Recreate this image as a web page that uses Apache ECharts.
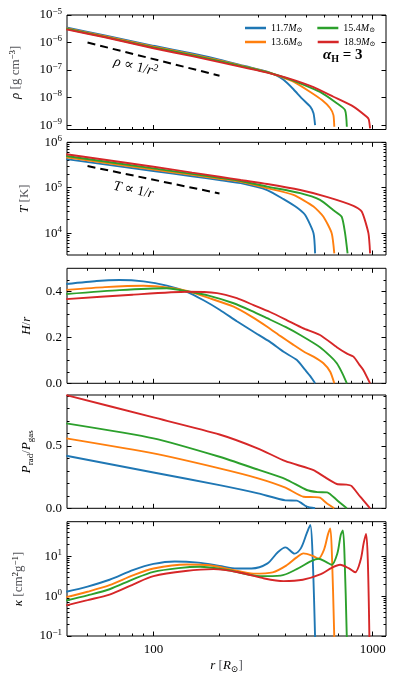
<!DOCTYPE html>
<html>
<head>
<meta charset="utf-8">
<script src="https://cdn.jsdelivr.net/npm/echarts@6/dist/echarts.min.js"></script>
<style>
html, body { margin: 0; padding: 0; background: #fff; }
#chart { width: 398px; height: 686px; }
</style>
</head>
<body>
<div id="chart"></div>
<script>
// disc profiles for four masses, alpha_H = 3
var masses = ['11.7', '13.6', '15.4', '18.9'];
var colors = ['#1f77b4', '#ff7f0e', '#2ca02c', '#d62728'];

// density [g cm^-3] vs r [Rsun]
var rho117 = [[40,3.55e-6],[60,1.8e-6],[100,7.6e-7],[150,4.0e-7],[200,2.4e-7],[260,1.4e-7],[330,8.7e-8],[360,6.6e-8],[392,4.4e-8],[435,2.0e-8],[475,9.3e-9],[519,4.7e-9],[537,2.7e-9],[546,1.0e-9]];
var rho136 = [[40,3.3e-6],[60,1.7e-6],[100,7.1e-7],[150,3.7e-7],[200,2.24e-7],[260,1.35e-7],[330,8.5e-8],[380,5.8e-8],[435,3.8e-8],[519,1.6e-8],[587,8.1e-9],[640,4.1e-9],[662,2.3e-9],[668,8.7e-10]];
var rho154 = [[40,3.16e-6],[60,1.6e-6],[100,6.6e-7],[150,3.5e-7],[200,2.1e-7],[260,1.3e-7],[330,8.3e-8],[400,5.2e-8],[467,3.3e-8],[575,1.6e-8],[686,6.2e-9],[748,3.5e-9],[762,8.7e-10]];
var rho189 = [[40,3.0e-6],[60,1.55e-6],[100,6.2e-7],[150,3.2e-7],[200,1.95e-7],[260,1.23e-7],[330,8.1e-8],[420,4.8e-8],[537,2.4e-8],[662,1.07e-8],[817,4.7e-9],[939,2.0e-9],[960,1.6e-9],[973,7.6e-10]];

// temperature [K]
var T117 = [[40,4.27e5],[100,2.33e5],[150,1.79e5],[200,1.48e5],[250,1.26e5],[330,8.9e4],[392,5.6e4],[451,3.66e4],[492,2.5e4],[537,1.0e4],[546,3.6e3]];
var T136 = [[40,4.68e5],[100,2.5e5],[150,1.92e5],[200,1.58e5],[250,1.35e5],[330,9.8e4],[435,6.95e4],[537,3.85e4],[596,2.3e4],[650,1.0e4],[668,3.6e3]];
var T154 = [[40,5.0e5],[100,2.67e5],[150,2.02e5],[200,1.66e5],[250,1.41e5],[330,1.06e5],[467,7.6e4],[575,5.4e4],[662,3.2e4],[722,2.3e4],[748,1.0e4],[768,3.6e3]];
var T189 = [[40,5.45e5],[100,2.9e5],[150,2.15e5],[200,1.75e5],[250,1.48e5],[330,1.21e5],[467,8.9e4],[617,6.3e4],[817,4.0e4],[891,3.0e4],[956,1.0e4],[973,3.6e3]];

// aspect ratio H/r
var Hr117 = [[40,0.432],[55,0.445],[70,0.449],[90,0.443],[115,0.425],[142,0.398],[170,0.36],[201,0.319],[240,0.27],[286,0.224],[340,0.18],[392,0.137],[451,0.101],[492,0.058],[520,0.03],[546,0]];
var Hr136 = [[40,0.406],[60,0.418],[90,0.424],[120,0.415],[142,0.402],[180,0.37],[232,0.333],[280,0.29],[330,0.246],[380,0.205],[435,0.167],[490,0.135],[537,0.116],[596,0.087],[640,0.05],[668,0]];
var Hr154 = [[40,0.388],[70,0.405],[115,0.413],[142,0.40],[180,0.38],[232,0.348],[280,0.315],[330,0.283],[400,0.245],[467,0.21],[575,0.157],[640,0.118],[686,0.087],[730,0.04],[762,0]];
var Hr189 = [[40,0.366],[80,0.385],[142,0.398],[195,0.392],[240,0.37],[286,0.34],[340,0.31],[405,0.275],[480,0.24],[575,0.21],[686,0.157],[760,0.13],[817,0.116],[870,0.08],[906,0.058],[973,0]];

// P_rad / P_gas
var Pr117 = [[40,0.422],[100,0.288],[200,0.186],[300,0.12],[400,0.064],[451,0.062],[475,0.04],[500,0.013],[546,0]];
var Pr136 = [[40,0.562],[100,0.441],[200,0.321],[300,0.241],[400,0.166],[483,0.093],[540,0.09],[575,0.085],[617,0.04],[668,0]];
var Pr154 = [[40,0.682],[100,0.562],[200,0.414],[300,0.31],[400,0.235],[500,0.147],[560,0.13],[620,0.128],[686,0.067],[762,0]];
var Pr189 = [[40,0.909],[100,0.73],[200,0.593],[300,0.48],[400,0.378],[537,0.307],[600,0.254],[686,0.195],[760,0.19],[800,0.18],[877,0.093],[973,0]];

// opacity kappa [cm^2 g^-1]
var k117 = [[40,1.3],[50,1.75],[63,2.6],[81,4.6],[100,6.5],[125,7.5],[160,7.0],[200,5.8],[240,5.0],[280,5.0],[330,6.6],[370,13],[400,17],[440,11.8],[470,16],[500,38],[519,62],[532,10],[546,0.09]];
var k136 = [[40,0.95],[50,1.3],[63,1.9],[81,3.4],[100,5.0],[142,6.3],[180,6.0],[230,4.6],[286,3.7],[350,4.0],[405,6.0],[450,9.5],[483,12],[530,10.5],[565,8.8],[600,15],[625,36],[640,51],[652,10],[668,0.09]];
var k154 = [[40,0.78],[50,1.05],[63,1.5],[81,2.7],[100,4.1],[130,5.1],[163,5.5],[220,4.5],[307,3.2],[380,3.3],[450,4.8],[520,7.5],[565,8.8],[615,7.2],[650,6.2],[690,12],[715,35],[731,45],[745,8],[762,0.09]];
var k189 = [[40,0.59],[50,0.8],[63,1.1],[81,2.0],[100,3.2],[140,4.3],[188,4.8],[250,3.9],[320,2.8],[392,2.4],[480,2.6],[580,3.6],[650,5.2],[710,6.2],[780,5.0],[832,4.0],[880,8],[910,22],[933,37],[950,8],[966,0.09]];

// guide lines
var refRho = [[50,1e-6],[200,6.25e-8]];
var refT = [[50,3e5],[200,7.5e4]];

// axis ticks (log10 units for log panels)
var xMajor = [2, 3];
var xMinorVals = [50,60,70,80,90,200,300,400,500,600,700,800,900];
var rhoMajor = [-9,-8,-7,-6,-5];
var TMajor = [4,5,6];
var HrMajor = [0, 0.2, 0.4];
var HrMinor = [0.05,0.1,0.15,0.25,0.3,0.35,0.45];
var PrMajor = [0, 0.5];
var PrMinor = [0.1,0.2,0.3,0.4,0.6,0.7,0.8,0.9];
var kMajor = [-1, 0, 1];

var lg = Math.log10;
var FONT = '"Liberation Serif", "DejaVu Serif", serif';
var X_MIN = lg(40.3), X_MAX = lg(1150);

function logMinors(d0, d1, lo, hi) {
    var out = [];
    for (var d = d0; d < d1; d++)
        for (var k = 2; k < 10; k++) {
            var v = d + lg(k);
            if (v > lo && v < hi) out.push(v);
        }
    return out;
}

var rich = {
    b: {fontFamily: FONT, fontSize: 13, lineHeight: 16, color: '#000'},
    i: {fontFamily: FONT, fontSize: 13, lineHeight: 16, fontStyle: 'italic', color: '#000'},
    s: {fontFamily: FONT, fontSize: 9, lineHeight: 9, verticalAlign: 'top', color: '#000'},
    sub: {fontFamily: FONT, fontSize: 9, lineHeight: 9, verticalAlign: 'bottom', color: '#000'}
};

function sup(n) { return n < 0 ? '\u2212' + (-n) : '' + n; }
function logLabel(v) { return '{b|10}{s|' + sup(Math.round(v)) + '}'; }
function linLabel(v) { return '{b|' + v.toFixed(1) + '}'; }

var panels = [
    {data: [rho117, rho136, rho154, rho189], log: true, min: -9.16, max: -5, major: rhoMajor, minor: [],
        name: '{i|\u03c1} [g cm{s|\u22123}]', gap: 43, top: 15, h: 114.5},
    {data: [T117, T136, T154, T189], log: true, min: 3.52, max: 6, major: TMajor, minor: logMinors(3, 6, 3.52, 6),
        name: '{i|T} [K]', gap: 34, top: 142.3, h: 112.7},
    {data: [Hr117, Hr136, Hr154, Hr189], log: false, min: 0, max: 0.5, major: HrMajor, minor: HrMinor,
        name: '{i|H}/{i|r}', gap: 32, top: 268.3, h: 115},
    {data: [Pr117, Pr136, Pr154, Pr189], log: false, min: 0, max: 0.91, major: PrMajor, minor: PrMinor,
        name: '{i|P}{sub|rad}/{i|P}{sub|gas}', gap: 30, top: 395, h: 113.3},
    {data: [k117, k136, k154, k189], log: true, min: -1, max: 1.875, major: kMajor, minor: logMinors(-1, 2, -1, 1.875),
        name: '{i|\u03ba} [cm{s|2}g{s|\u22121}]', gap: 40, top: 521.7, h: 114.3}
];

var grids = [], xAxes = [], yAxes = [], series = [];
var xMinor = xMinorVals.map(lg);

function tickAxis(g, pos, ticks, len, extra) {
    var a = {
        gridIndex: g, type: 'value', position: pos,
        axisLine: {show: false, onZero: false}, splitLine: {show: false},
        axisTick: {show: true, inside: true, length: len, customValues: ticks, lineStyle: {color: '#000', width: 1}},
        axisLabel: {show: false}
    };
    for (var k in extra) a[k] = extra[k];
    return a;
}

panels.forEach(function (p, g) {
    grids.push({left: 67, width: 319, top: p.top, height: p.h, show: true, borderColor: '#000', borderWidth: 1});

    var xr = {min: X_MIN, max: X_MAX};
    var xm = tickAxis(g, 'bottom', xMajor, 4.5, xr);
    if (g === 4) {
        xm.axisLabel = {show: true, customValues: xMajor, margin: 6, rich: rich,
            formatter: function (v) { return '{b|' + Math.round(Math.pow(10, v)) + '}'; }};
        xm.name = '{i|r} [{i|R}{sub|\u2299}]';
        xm.nameLocation = 'middle';
        xm.nameGap = 22;
        xm.nameTextStyle = {rich: rich, fontFamily: FONT, fontSize: 13, lineHeight: 16};
    }
    xAxes.push(xm,
        tickAxis(g, 'bottom', xMinor, 2.5, xr),
        tickAxis(g, 'top', xMajor, 4.5, xr),
        tickAxis(g, 'top', xMinor, 2.5, xr));

    var yr = {min: p.min, max: p.max};
    var ym = tickAxis(g, 'left', p.major, 4.5, yr);
    ym.axisLabel = {show: true, customValues: p.major, margin: 5, rich: rich,
        formatter: p.log ? logLabel : linLabel};
    ym.name = p.name;
    ym.nameLocation = 'middle';
    ym.nameRotate = 90;
    ym.nameGap = p.gap;
    ym.nameTextStyle = {rich: rich, fontFamily: FONT, fontSize: 13, lineHeight: 16};
    yAxes.push(ym,
        tickAxis(g, 'left', p.minor, 2.5, yr),
        tickAxis(g, 'right', p.major, 4.5, yr),
        tickAxis(g, 'right', p.minor, 2.5, yr));

    p.data.forEach(function (arr, i) {
        series.push({
            type: 'line', name: masses[i], xAxisIndex: g * 4, yAxisIndex: g * 4,
            data: arr.map(function (d) { return [lg(d[0]), p.log ? lg(d[1]) : d[1]]; }),
            showSymbol: false, symbol: 'none', smooth: g === 4 ? 0.3 : 0.2, clip: true,
            color: colors[i], lineStyle: {color: colors[i], width: 1.9},
            emphasis: {disabled: true}, silent: true
        });
    });
});

// dashed power-law guides with their labels
function guide(arr, g, text, at, rot) {
    return {
        type: 'line', xAxisIndex: g * 4, yAxisIndex: g * 4, silent: true, symbol: 'none',
        data: arr.map(function (d) { return [lg(d[0]), lg(d[1])]; }),
        lineStyle: {color: '#000', width: 2, type: [8, 5]},
        markPoint: {
            symbol: 'rect', symbolSize: 1, itemStyle: {color: 'rgba(0,0,0,0)'}, silent: true,
            label: {show: true, position: 'inside', rotate: rot, formatter: text, color: '#000',
                fontFamily: FONT, fontSize: 14, rich: {
                    i: {fontFamily: FONT, fontSize: 14, lineHeight: 17, fontStyle: 'italic', color: '#000'},
                    s: {fontFamily: FONT, fontSize: 10, lineHeight: 10, verticalAlign: 'top', color: '#000'}
                }},
            data: [{coord: [lg(at[0]), lg(at[1])]}]
        }
    };
}
series.push(guide(refRho, 0, '{i|\u03c1} \u221d 1/{i|r}{s|2}', [83, 1.3e-7], -14));
series.push(guide(refT, 1, '{i|T} \u221d 1/{i|r}', [81, 8.9e4], -12));

var legRich = {
    i: {fontFamily: FONT, fontSize: 10, lineHeight: 12, fontStyle: 'italic', color: '#000'},
    sub: {fontFamily: FONT, fontSize: 7, lineHeight: 7, verticalAlign: 'bottom', color: '#000'}
};
function legend(names, top) {
    return {
        data: names, left: 240, top: top, itemGap: 15, icon: 'rect', itemWidth: 21, itemHeight: 2.5,
        selectedMode: false,
        formatter: function (n) { return n + '{i|M}{sub|\u2299}'; },
        textStyle: {fontFamily: FONT, fontSize: 10, color: '#000', rich: legRich}
    };
}

var chart = echarts.init(document.getElementById('chart'), null, {renderer: 'canvas'});
chart.setOption({
    animation: false,
    grid: grids,
    xAxis: xAxes,
    yAxis: yAxes,
    legend: [legend(['11.7', '15.4'], 18), legend(['13.6', '18.9'], 32)],
    graphic: [{
        type: 'text', left: 323, top: 48, silent: true,
        style: {
            text: '{i|\u03b1}{sub|H} = 3', fontFamily: FONT, fontSize: 15, fontWeight: 'bold', fill: '#000',
            rich: {
                i: {fontFamily: FONT, fontSize: 15, lineHeight: 18, fontStyle: 'italic', fontWeight: 'bold', fill: '#000'},
                sub: {fontFamily: FONT, fontSize: 10, lineHeight: 10, verticalAlign: 'bottom', fontWeight: 'bold', fill: '#000'}
            }
        }
    }],
    series: series
});
</script>
</body>
</html>
